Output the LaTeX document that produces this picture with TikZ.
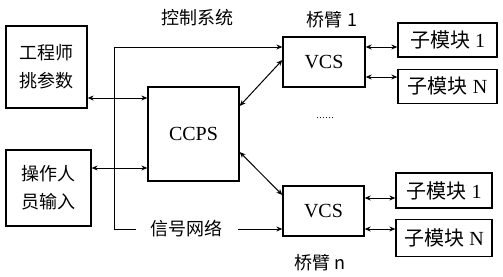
\documentclass[tikz,border=0pt]{standalone}
\usepackage{fontspec}
\setmainfont{Liberation Serif}
\newfontfamily\cjk{Noto Sans CJK SC}
\usetikzlibrary{arrows.meta, positioning}

\begin{document}
\begin{tikzpicture}[x=1pt, y=-1pt, line width=1pt, node distance=10pt,
    every node/.style={font=\fontsize{20}{24}\selectfont},
    box/.style={draw, line width=1.3pt, inner sep=0pt, align=center},
    cn/.style={font=\fontsize{18}{28}\selectfont\cjk, align=center},
    link/.style={{Stealth[length=6pt,width=5pt]}-{Stealth[length=6pt,width=5pt]}},
    feed/.style={-{Stealth[length=6pt,width=5pt]}}]
    \useasboundingbox (0,0) rectangle (503,276);
    % left side and controller
    \node[box, cn, minimum width=81pt, minimum height=82pt] (eng) at (46.5,67) {工程师\\挑参数};
    \node[box, cn, minimum width=85pt, minimum height=76pt] (op) at (48.5,188) {操作人\\员输入};
    \node[box, minimum width=91pt, minimum height=94pt] (ccps) at (193.5,134) {CCPS};
    % bridge arms
    \node[box, minimum width=82pt, minimum height=50pt] (vcs1) at (324,62) {VCS};
    \node[box, minimum width=81pt, minimum height=50pt] (vcsn) at (323.5,211) {VCS};
    \node[box, minimum width=99pt, minimum height=34pt] (sub11) at (447.5,40) {{\cjk 子模块} 1};
    \node[box, minimum width=99pt, minimum height=34pt, below=11pt of sub11] (sub1N) {{\cjk 子模块} N};
    \node[box, minimum width=96pt, minimum height=35pt] (subn1) at (444,190.5) {{\cjk 子模块} 1};
    \node[box, minimum width=96pt, minimum height=37pt, below=10pt of subn1] (subnN) {{\cjk 子模块} N};
    % labels
    \node[cn] (ctrl) at (197,18) {控制系统};
    \node[cn] (arm1) at (332,20) {桥臂 1};
    \node[cn] (armn) at (320,263) {桥臂 n};
    \node[cn, minimum width=101pt] (net) at (186.5,229) {信号网络};
    \node[font=\fontsize{10}{10}\selectfont] (dots) at (325,118) {.\kern0.5pt.\kern0.5pt.\kern0.5pt.\kern0.5pt.\kern0.5pt.};
    \coordinate (bus) at (114,47);
    % connectors
    \draw[link] (eng.east |- 0,98) -- (ccps.west |- 0,98);
    \draw[link] (op.east |- 0,168) -- (ccps.west |- 0,168);
    \draw[link] (ccps.east |- 0,106) -- (vcs1.west |- 0,60);
    \draw[link] (ccps.east |- 0,152) -- (vcsn.west |- 0,195);
    \draw[feed] (net.west) -| (bus) -- (vcs1.west |- bus);
    \draw[feed] (net.east) -- (vcsn.west |- net.east);
    \draw[link] (vcs1.east |- 0,47) -- (sub11.west |- 0,47);
    \draw[link] (vcs1.east |- 0,77) -- (sub1N.west |- 0,77);
    \draw[link] (vcsn.east |- 0,198) -- (subn1.west |- 0,198);
    \draw[link] (vcsn.east |- 0,229) -- (subnN.west |- 0,229);
\end{tikzpicture}
\end{document}
